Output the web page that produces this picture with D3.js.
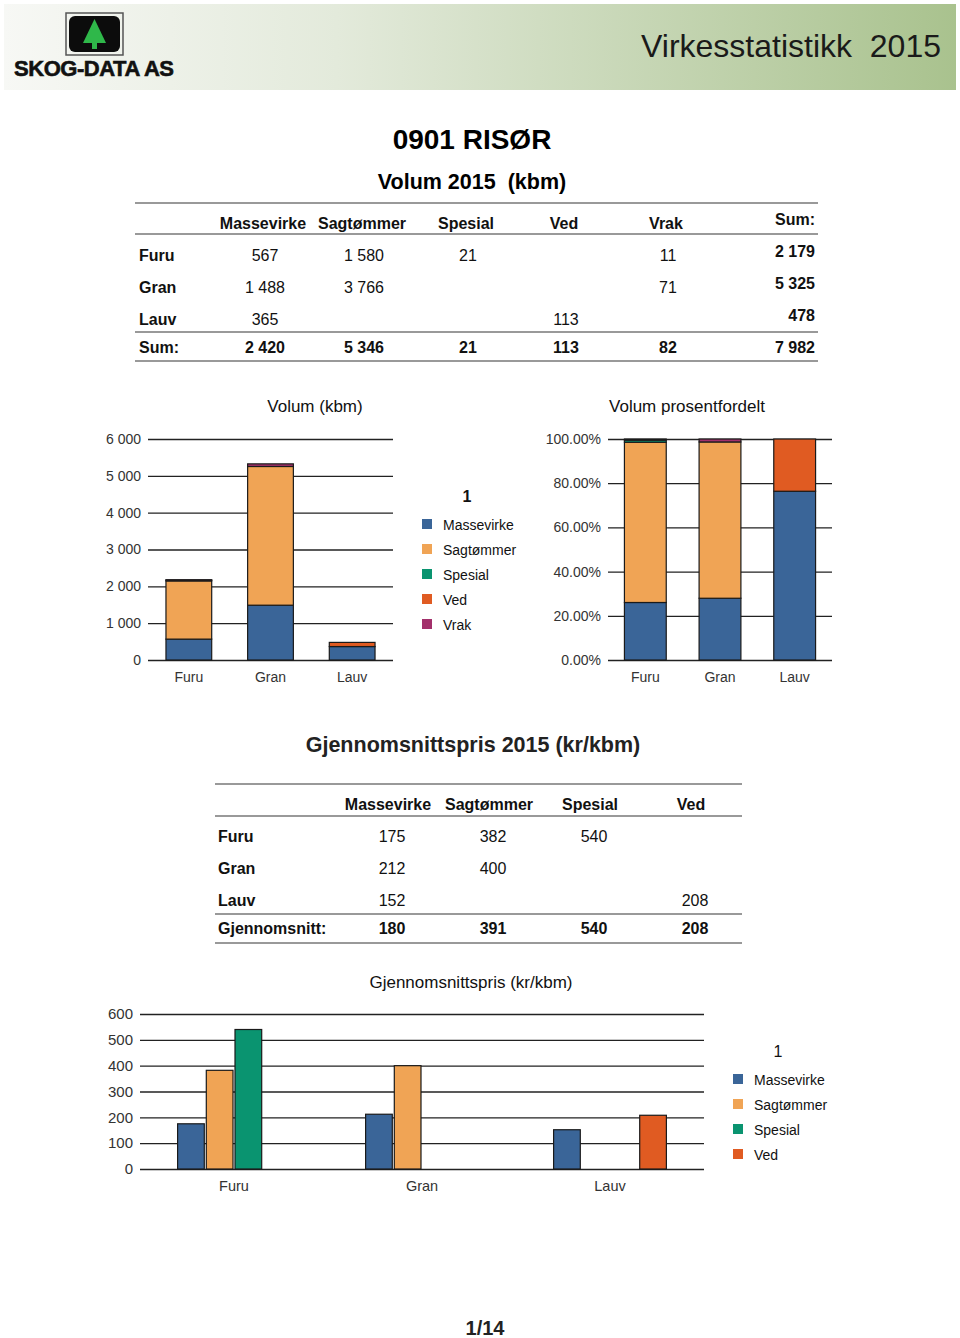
<!DOCTYPE html>
<html>
<head>
<meta charset="utf-8">
<title>Virkesstatistikk 2015 - 0901 RISØR</title>
<script src="https://d3js.org/d3.v7.min.js"></script>
<style>
  body { margin: 0; background: #fff; }
  svg { font-family: "Liberation Sans", Arial, sans-serif; display: block; }
</style>
</head>
<body>
<div id="page"></div>
<script>
// ---- data ----
var species = ["Furu", "Gran", "Lauv"];
var assortments = ["Massevirke", "Sagtømmer", "Spesial", "Ved", "Vrak"];
var colors = ["#3a6598", "#f0a455", "#0a9470", "#e05b22", "#a3306b"];

// volume (kbm), null = empty cell
var volFuru = [567, 1580, 21, null, 11];
var volGran = [1488, 3766, null, null, 71];
var volLauv = [365, null, null, 113, null];
var volSum = [2420, 5346, 21, 113, 82];
var volRowSum = [2179, 5325, 478];
var volTotal = 7982;

// average price (kr/kbm)
var priceAssort = ["Massevirke", "Sagtømmer", "Spesial", "Ved"];
var priceFuru = [175, 382, 540, null];
var priceGran = [212, 400, null, null];
var priceLauv = [152, null, null, 208];
var priceAvg = [180, 391, 540, 208];

var volTicks = [0, 1000, 2000, 3000, 4000, 5000, 6000];
var pctTicks = [0, 0.2, 0.4, 0.6, 0.8, 1];
var priceTicks = [0, 100, 200, 300, 400, 500, 600];

var volRows = [volFuru, volGran, volLauv];
var priceRows = [priceFuru, priceGran, priceLauv];

var W = 960, H = 1338;
var svg = d3.select("#page").append("svg").attr("width", W).attr("height", H);
var fmt = function (v) { return v == null ? "" : d3.format(",")(v).replace(/,/g, " "); };

// ---- header band ----
var defs = svg.append("defs");
var grad = defs.append("linearGradient").attr("id", "hdr");
grad.append("stop").attr("offset", "0%").attr("stop-color", "#f7f8f5");
grad.append("stop").attr("offset", "35%").attr("stop-color", "#e3eadb");
grad.append("stop").attr("offset", "100%").attr("stop-color", "#a9c28e");
svg.append("rect").attr("x", 4).attr("y", 4).attr("width", 952).attr("height", 86).attr("fill", "url(#hdr)");

// logo
svg.append("rect").attr("x", 66).attr("y", 13).attr("width", 57).attr("height", 42).attr("fill", "none").attr("stroke", "#555").attr("stroke-width", 1.5);
svg.append("rect").attr("x", 69).attr("y", 16).attr("width", 51).attr("height", 36).attr("rx", 6).attr("fill", "#0c0c0c");
svg.append("path").attr("d", "M94.5,19 L106,43 L83,43 Z").attr("fill", "#2fb84a");
svg.append("rect").attr("x", 92).attr("y", 43).attr("width", 5).attr("height", 6).attr("fill", "#2fb84a");
svg.append("text").attr("x", 14).attr("y", 76).attr("font-size", 22).attr("font-weight", "bold")
  .attr("fill", "#111").attr("stroke", "#111").attr("stroke-width", 0.6)
  .attr("textLength", 160).text("SKOG-DATA AS");

svg.append("text").attr("x", 941).attr("y", 57).attr("text-anchor", "end").attr("font-size", 32)
  .attr("fill", "#1a1a1a").attr("xml:space", "preserve").text("Virkesstatistikk  2015");

// ---- titles ----
svg.append("text").attr("x", 472).attr("y", 149).attr("text-anchor", "middle").attr("font-size", 28)
  .attr("font-weight", "bold").text("0901 RISØR");
svg.append("text").attr("x", 472).attr("y", 189).attr("text-anchor", "middle").attr("font-size", 21.5)
  .attr("font-weight", "bold").attr("xml:space", "preserve").text("Volum 2015  (kbm)");

// ---- table helper ----
function hline(x1, x2, y) {
  svg.append("line").attr("x1", x1).attr("x2", x2).attr("y1", y).attr("y2", y)
    .attr("stroke", "#777").attr("stroke-width", 1.5);
}
function txt(x, y, s, anchor, bold, size) {
  svg.append("text").attr("x", x).attr("y", y).attr("text-anchor", anchor || "middle")
    .attr("font-size", size || 16).attr("font-weight", bold ? "bold" : "normal").attr("fill", "#111").text(s);
}

// table 1
var t1Cols = [265, 364, 468, 566, 668];
hline(135, 818, 203); hline(135, 818, 234); hline(135, 818, 332); hline(135, 818, 361);
assortments.forEach(function (a, i) { txt(t1Cols[i] - 2, 229, a, "middle", true); });
txt(815, 225, "Sum:", "end", true);
var t1Y = [261, 293, 325];
species.forEach(function (s, r) {
  txt(139, t1Y[r], s, "start", true);
  volRows[r].forEach(function (v, i) { txt(t1Cols[i], t1Y[r], fmt(v), "middle", false); });
  txt(815, t1Y[r] - 4, fmt(volRowSum[r]), "end", true, 16);
});
txt(139, 353, "Sum:", "start", true);
volSum.forEach(function (v, i) { txt(t1Cols[i], 353, fmt(v), "middle", true); });
txt(815, 353, fmt(volTotal), "end", true);

// ---- stacked charts ----
function stackData(rows, normalize) {
  return species.map(function (s, r) {
    var tot = d3.sum(rows[r], function (v) { return v || 0; });
    var acc = 0;
    return rows[r].map(function (v, i) {
      var val = (v || 0) / (normalize ? tot : 1);
      var seg = { sp: s, i: i, y0: acc, y1: acc + val };
      acc += val;
      return seg;
    }).filter(function (d) { return d.y1 > d.y0; });
  });
}

function axisText(g, size) {
  g.selectAll("text").attr("fill", "#333").attr("font-size", size || 14);
}

function stackedChart(opt) {
  var x = d3.scaleBand().domain(species).range([opt.x0, opt.x1]).paddingInner(0.44).paddingOuter(0.22);
  var y = d3.scaleLinear().domain([0, opt.max]).range([opt.yb, opt.yt]);
  var g = svg.append("g");
  var ya = g.append("g").attr("transform", "translate(" + opt.x0 + ",0)")
    .call(d3.axisLeft(y).tickValues(opt.ticks).tickSize(-(opt.x1 - opt.x0)).tickPadding(7).tickFormat(opt.fmt));
  ya.select(".domain").remove();
  ya.selectAll("line").attr("stroke", "#222").attr("stroke-width", 1.3);
  axisText(ya);
  var xa = g.append("g").attr("transform", "translate(0," + opt.yb + ")")
    .call(d3.axisBottom(x).tickSize(0).tickPadding(12));
  xa.select(".domain").remove();
  axisText(xa);
  stackData(opt.rows, opt.normalize).forEach(function (segs) {
    g.selectAll(null).data(segs).enter().append("rect")
      .attr("x", function (d) { return x(d.sp); })
      .attr("width", x.bandwidth())
      .attr("y", function (d) { return y(d.y1); })
      .attr("height", function (d) { return y(d.y0) - y(d.y1); })
      .attr("fill", function (d) { return colors[d.i]; })
      .attr("stroke", "#1a1a1a").attr("stroke-width", 1.2);
  });
  g.append("text").attr("x", opt.tx).attr("y", 412).attr("text-anchor", "middle")
    .attr("font-size", 17).attr("fill", "#111").text(opt.title);
}

stackedChart({ x0: 148, x1: 393, yb: 660, yt: 439, max: 6000, ticks: volTicks, rows: volRows,
  normalize: false, fmt: fmt, title: "Volum (kbm)", tx: 315 });
stackedChart({ x0: 608, x1: 832, yb: 660, yt: 439, max: 1, ticks: pctTicks, rows: volRows,
  normalize: true, fmt: d3.format(".2%"), title: "Volum prosentfordelt", tx: 687 });

// legend helper
function legend(x, y, items, titleBold, tx) {
  var g = svg.append("g");
  g.append("text").attr("x", tx).attr("y", y).attr("text-anchor", "middle").attr("font-size", 16)
    .attr("font-weight", titleBold ? "bold" : "normal").attr("fill", "#111").text("1");
  items.forEach(function (a, i) {
    var yy = y + 28 + i * 25;
    g.append("rect").attr("x", x).attr("y", yy - 11).attr("width", 10).attr("height", 10).attr("fill", colors[i]);
    g.append("text").attr("x", x + 21).attr("y", yy).attr("font-size", 14).attr("fill", "#111").text(a);
  });
}
legend(422, 502, assortments, true, 467);

// ---- table 2 ----
svg.append("text").attr("x", 473).attr("y", 752).attr("text-anchor", "middle").attr("font-size", 21.5)
  .attr("font-weight", "bold").attr("fill", "#222").text("Gjennomsnittspris 2015 (kr/kbm)");
var t2Cols = [392, 493, 594, 695];
hline(215, 742, 784); hline(215, 742, 816); hline(215, 742, 914); hline(215, 742, 943);
priceAssort.forEach(function (a, i) { txt(t2Cols[i] - 4, 810, a, "middle", true); });
var t2Y = [842, 874, 906];
species.forEach(function (s, r) {
  txt(218, t2Y[r], s, "start", true);
  priceRows[r].forEach(function (v, i) { txt(t2Cols[i], t2Y[r], fmt(v), "middle", false); });
});
txt(218, 934, "Gjennomsnitt:", "start", true);
priceAvg.forEach(function (v, i) { txt(t2Cols[i], 934, fmt(v), "middle", true); });

// ---- grouped bar chart ----
(function () {
  var x0 = 140, x1 = 704, yb = 1169, yt = 1014;
  var x = d3.scaleBand().domain(species).range([x0, x1]).paddingInner(0.4).paddingOuter(0.2);
  var xi = d3.scaleBand().domain(priceAssort).range([0, x.bandwidth()]).paddingInner(0.07);
  var y = d3.scaleLinear().domain([0, 600]).range([yb, yt]);
  var g = svg.append("g");
  var ya = g.append("g").attr("transform", "translate(" + x0 + ",0)")
    .call(d3.axisLeft(y).tickValues(priceTicks).tickSize(-(x1 - x0)).tickPadding(7));
  ya.select(".domain").remove();
  ya.selectAll("line").attr("stroke", "#222").attr("stroke-width", 1.3);
  axisText(ya, 15);
  var xa = g.append("g").attr("transform", "translate(0," + yb + ")")
    .call(d3.axisBottom(x).tickSize(0).tickPadding(12));
  xa.select(".domain").remove();
  axisText(xa, 14.5);
  species.forEach(function (s, r) {
    var d = priceRows[r].map(function (v, i) { return { a: priceAssort[i], i: i, v: v }; })
      .filter(function (d) { return d.v != null; });
    g.selectAll(null).data(d).enter().append("rect")
      .attr("x", function (d) { return x(s) + xi(d.a); })
      .attr("width", xi.bandwidth())
      .attr("y", function (d) { return y(d.v); })
      .attr("height", function (d) { return yb - y(d.v); })
      .attr("fill", function (d) { return colors[d.i]; })
      .attr("stroke", "#1a1a1a").attr("stroke-width", 1.2);
  });
  g.append("text").attr("x", 471).attr("y", 988).attr("text-anchor", "middle")
    .attr("font-size", 17).attr("fill", "#111").text("Gjennomsnittspris (kr/kbm)");
})();
legend(733, 1057, priceAssort, false, 778);

// page number
svg.append("text").attr("x", 485).attr("y", 1335).attr("text-anchor", "middle").attr("font-size", 20)
  .attr("font-weight", "bold").attr("fill", "#222").text("1/14");
</script>
</body>
</html>
